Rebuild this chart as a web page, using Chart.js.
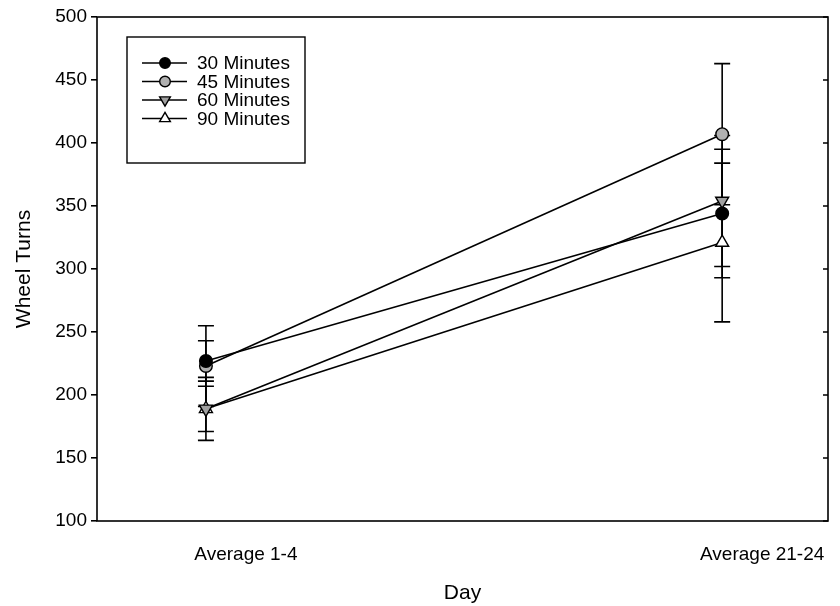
<!DOCTYPE html>
<html>
<head>
<meta charset="utf-8">
<script src="https://cdn.jsdelivr.net/npm/chart.js@4"></script>
<style>
html,body{margin:0;padding:0;background:#fff;}
#wrap{width:840px;height:606px;position:relative;}
</style>
</head>
<body>
<div id="wrap"><canvas id="c" width="840" height="606"></canvas></div>
<script>
const categories = ['Average 1-4', 'Average 21-24'];
const seriesNames = ['30 Minutes', '45 Minutes', '60 Minutes', '90 Minutes'];
const min30 = [227, 344];
const min45 = [223, 407];
const min60 = [189, 354];
const min90 = [189, 321];
const err30 = [16, 51];
const err45 = [32, 56];
const err60 = [25, 52];
const err90 = [18, 63];
const yTicks = [100, 150, 200, 250, 300, 350, 400, 450, 500];

const values = [min30, min45, min60, min90];
const errors = [err30, err45, err60, err90];
const styles = [
  {pointStyle: 'circle', fill: '#000000', rot: 0},
  {pointStyle: 'circle', fill: '#b0b0b0', rot: 0},
  {pointStyle: 'triangle', fill: '#a0a0a0', rot: 180},
  {pointStyle: 'triangle', fill: '#ffffff', rot: 0}
];
const FONT = '"Liberation Sans", Arial, sans-serif';

const datasets = values.map((vals, s) => ({
  label: seriesNames[s],
  data: categories.map((c, i) => ({x: i, y: vals[i]})),
  errs: errors[s],
  borderColor: '#000',
  borderWidth: 1.6,
  backgroundColor: styles[s].fill,
  pointBackgroundColor: styles[s].fill,
  pointBorderColor: '#000',
  pointBorderWidth: 1.4,
  pointStyle: styles[s].pointStyle,
  pointRotation: styles[s].rot,
  pointRadius: styles[s].pointStyle === 'triangle' ? 7.5 : 6.3,
  tension: 0,
  fill: false
}));

const errorBars = {
  id: 'errorBars',
  beforeDatasetsDraw(chart) {
    const ctx = chart.ctx;
    const xs = chart.scales.x, ys = chart.scales.y;
    ctx.save();
    ctx.strokeStyle = '#000';
    ctx.lineWidth = 1.6;
    chart.data.datasets.forEach(ds => {
      ds.data.forEach((p, i) => {
        const e = ds.errs[i];
        const x = xs.getPixelForValue(p.x);
        const yt = ys.getPixelForValue(p.y + e);
        const yb = ys.getPixelForValue(p.y - e);
        ctx.beginPath();
        ctx.moveTo(x, yt); ctx.lineTo(x, yb);
        ctx.moveTo(x - 8, yt); ctx.lineTo(x + 8, yt);
        ctx.moveTo(x - 8, yb); ctx.lineTo(x + 8, yb);
        ctx.stroke();
      });
    });
    ctx.restore();
  }
};

const frame = {
  id: 'frame',
  afterDraw(chart) {
    const ctx = chart.ctx;
    const a = chart.chartArea;
    const ys = chart.scales.y;
    ctx.save();
    ctx.strokeStyle = '#000';
    ctx.lineWidth = 1.6;
    ctx.strokeRect(a.left, a.top, a.right - a.left, a.bottom - a.top);
    ctx.beginPath();
    yTicks.forEach(v => {
      const y = ys.getPixelForValue(v);
      ctx.moveTo(a.right, y); ctx.lineTo(a.right - 5, y);
    });
    ctx.stroke();
    // legend
    const lx = 127, ly = 37, lw = 178, lh = 126;
    ctx.lineWidth = 1.4;
    ctx.strokeRect(lx, ly, lw, lh);
    ctx.font = '19px ' + FONT;
    ctx.textBaseline = 'middle';
    chart.data.datasets.forEach((ds, s) => {
      const y = 63 + s * 18.5;
      ctx.lineWidth = 1.6;
      ctx.strokeStyle = '#000';
      ctx.beginPath();
      ctx.moveTo(142, y); ctx.lineTo(187, y);
      ctx.stroke();
      ctx.fillStyle = ds.pointBackgroundColor;
      ctx.lineWidth = 1.4;
      Chart.helpers.drawPoint(ctx, {
        pointStyle: ds.pointStyle,
        rotation: ds.pointRotation,
        radius: ds.pointStyle === 'triangle' ? 6.2 : 5.3,
        borderWidth: 1.4
      }, 165, y);
      ctx.fillStyle = '#000';
      ctx.fillText(ds.label, 197, y + 1);
    });
    ctx.restore();
  }
};

new Chart(document.getElementById('c'), {
  type: 'line',
  data: {datasets},
  options: {
    responsive: false,
    animation: false,
    layout: {padding: {top: 17, right: 12, bottom: 0, left: 0}},
    plugins: {legend: {display: false}, tooltip: {enabled: false}},
    scales: {
      x: {
        type: 'linear',
        min: -0.211,
        max: 1.205,
        afterBuildTicks(scale) { scale.ticks = categories.map((c, i) => ({value: i})); },
        afterFit(scale) { scale.height = 85; },
        ticks: {
          color: '#000',
          font: {family: FONT, size: 19},
          padding: 22,
          labelOffset: 40,
          callback: (v) => categories[v] !== undefined ? categories[v] : ''
        },
        grid: {display: false, drawTicks: false},
        border: {display: false},
        title: {
          display: true, text: 'Day', color: '#000',
          font: {family: FONT, size: 21},
          padding: {top: 8, bottom: 0}
        }
      },
      y: {
        min: 100,
        max: 500,
        afterBuildTicks(scale) { scale.ticks = yTicks.map(v => ({value: v})); },
        afterFit(scale) { scale.width = 97; },
        ticks: {
          color: '#000',
          font: {family: FONT, size: 19},
          padding: 4
        },
        grid: {drawOnChartArea: false, drawTicks: true, tickLength: 6, color: '#000', lineWidth: 1.6},
        border: {display: false},
        title: {
          display: true, text: 'Wheel Turns', color: '#000',
          font: {family: FONT, size: 21},
          padding: {top: 12, bottom: 0}
        }
      }
    }
  },
  plugins: [errorBars, frame]
});
</script>
</body>
</html>
